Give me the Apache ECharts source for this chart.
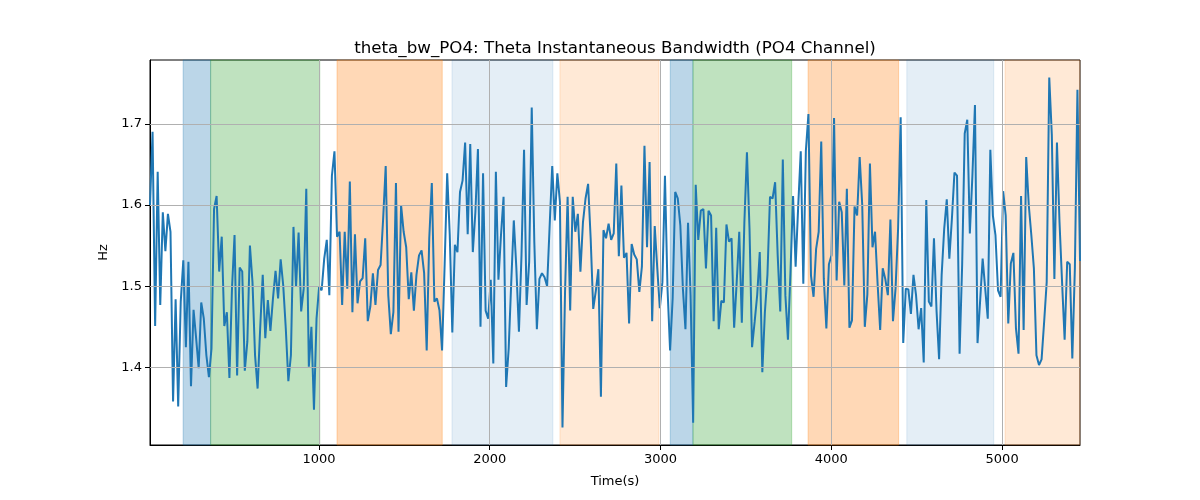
<!DOCTYPE html>
<html><head><meta charset="utf-8">
<script src="https://cdn.jsdelivr.net/npm/echarts@6/dist/echarts.min.js"></script>
<style>html,body{margin:0;padding:0;background:#fff}#c{width:1200px;height:500px}</style>
</head><body><div id="c"></div>
<script>
// Theta bandwidth (Hz), one sample every 15 s
const values = [
1.600,1.690,1.451,1.641,1.477,1.591,1.543,1.589,1.567,1.358,
1.484,1.352,1.481,1.532,1.425,1.530,1.377,1.471,1.436,1.399,
1.480,1.460,1.415,1.388,1.423,1.595,1.611,1.518,1.561,1.451,
1.468,1.387,1.497,1.563,1.390,1.523,1.518,1.396,1.432,1.550,
1.505,1.415,1.374,1.448,1.514,1.436,1.483,1.445,1.485,1.519,
1.485,1.533,1.501,1.448,1.383,1.415,1.573,1.499,1.566,1.469,
1.497,
1.620,1.401,1.450,1.348,1.460,1.499,1.495,1.534,1.557,1.489,
1.636,1.666,1.561,1.567,1.477,1.567,1.497,1.629,1.468,1.564,
1.479,1.506,1.510,1.559,1.457,1.475,1.516,1.477,1.520,1.526,
1.583,1.648,1.489,1.441,1.468,1.627,1.444,1.600,1.567,1.548,
1.484,1.517,1.470,1.514,1.538,1.544,1.516,1.421,1.559,1.627,
1.481,1.485,1.470,1.421,1.526,1.639,1.563,1.443,1.551,1.542,
1.616,
1.630,1.677,1.564,1.675,1.542,1.591,1.669,1.450,1.639,1.470,
1.460,1.508,1.405,1.641,1.508,1.563,1.610,1.376,1.423,1.505,
1.581,1.522,1.444,1.538,1.668,1.477,1.530,1.720,1.555,1.447,
1.509,1.516,1.511,1.500,1.575,1.648,1.581,1.639,1.604,1.326,
1.493,1.610,1.470,1.610,1.567,1.589,1.518,1.579,1.608,1.626,
1.559,1.472,1.494,1.521,1.364,1.569,1.559,1.577,1.557,1.565,
1.651,1.537,1.624,1.535,1.541,1.454,1.552,1.539,1.533,1.493,
1.524,1.673,1.548,1.653,1.457,1.574,1.522,1.473,1.505,1.636,
1.497,1.421,1.485,1.616,1.608,1.575,1.497,1.447,1.578,1.489,
1.332,1.625,1.557,1.593,1.595,1.522,1.593,1.587,1.457,1.572,
1.447,1.482,1.480,1.576,1.555,1.559,1.449,1.505,1.567,1.455,
1.579,1.665,1.571,1.425,1.456,1.489,1.542,1.394,1.468,1.514,
1.610,
1.608,1.628,1.538,1.469,1.656,1.489,1.434,1.518,1.611,1.524,
1.598,1.666,1.503,1.667,1.712,1.513,1.487,1.546,1.567,1.678,
1.509,1.448,1.527,1.538,1.707,1.507,1.604,1.591,1.501,1.620,
1.449,1.458,1.598,1.587,1.659,1.600,1.450,1.490,1.651,1.548,
1.567,1.503,1.446,1.522,1.509,1.489,1.582,1.457,1.497,1.571,
1.708,1.430,1.497,1.496,1.466,1.514,1.489,1.447,1.473,1.406,
1.606,1.481,1.475,1.559,1.470,1.410,1.514,1.571,1.607,1.534,
1.583,1.640,1.636,1.417,1.526,1.688,1.705,1.565,1.636,1.723,
1.430,1.481,1.534,1.497,1.460,1.668,1.587,1.563,1.495,1.487,
1.617,1.587,1.454,1.528,1.541,1.448,1.417,1.611,1.446,1.659,
1.600,1.563,1.522,1.415,1.403,1.410,1.456,1.505,1.757,1.686,
1.509,1.677,1.579,1.505,1.434,1.530,1.527,1.411,1.522,1.742,
1.531
];
const sampleStart = 11;   // s, first sample
const sampleStep = 15;    // s between samples

const xTicks = [1000, 2000, 3000, 4000, 5000];
const yTicks = [1.4, 1.5, 1.6, 1.7];
const xRange = [11, 5456];
const yRange = [1.3045, 1.7785];

// shaded intervals (s)
const bandStart = [205, 366, 1106, 1779, 2411, 3057, 3190, 3864, 4442, 5017];
const bandEnd   = [366, 1005, 1722, 2370, 2991, 3190, 3768, 4394, 4951, 5456];
const bandKind  = ['a', 'b', 'c', 'd', 'e', 'a', 'b', 'c', 'd', 'e'];

const bandColor = {
  a: 'rgba(31,119,180,0.3)',
  b: 'rgba(44,160,44,0.3)',
  c: 'rgba(255,127,14,0.3)',
  d: 'rgba(31,119,180,0.12)',
  e: 'rgba(255,127,14,0.17)'
};

const seriesData = values.map((v, i) => [sampleStart + i * sampleStep, v]);
const font = 'DejaVu Sans';

const areas = bandStart.map((s, i) => [
  { xAxis: s, itemStyle: { color: bandColor[bandKind[i]], borderColor: bandColor[bandKind[i]], borderWidth: 1 } },
  { xAxis: bandEnd[i] }
]);
const gridLines = xTicks.map(x => ({ xAxis: x })).concat(yTicks.map(y => ({ yAxis: y })));

const chart = echarts.init(document.getElementById('c'), null, { renderer: 'canvas' });
chart.setOption({
  animation: false,
  backgroundColor: '#fff',
  title: {
    text: 'theta_bw_PO4: Theta Instantaneous Bandwidth (PO4 Channel)',
    left: 610, top: 35, textAlign: 'center',
    textStyle: { fontFamily: font, fontSize: 16.7, fontWeight: 'normal', color: '#000' }
  },
  grid: { left: 150, right: 120, top: 60, bottom: 55, show: true, borderColor: '#000', borderWidth: 1, backgroundColor: 'transparent' },
  xAxis: {
    type: 'value', min: xRange[0], max: xRange[1],
    name: 'Time(s)', nameLocation: 'middle', nameGap: 30,
    nameTextStyle: { fontFamily: font, fontSize: 13, color: '#000' },
    axisLine: { show: true, onZero: false, lineStyle: { color: '#000', width: 1 } },
    axisTick: { show: true, length: 5, lineStyle: { color: '#000' }, customValues: xTicks },
    axisLabel: { fontFamily: font, fontSize: 13, color: '#000', margin: 8, customValues: xTicks, formatter: v => String(Math.round(v)) },
    splitLine: { show: false }
  },
  yAxis: {
    type: 'value', min: yRange[0], max: yRange[1],
    name: 'Hz', nameLocation: 'middle', nameGap: 33, nameRotate: 90,
    nameTextStyle: { fontFamily: font, fontSize: 13, color: '#000' },
    axisLine: { show: true, onZero: false, lineStyle: { color: '#000', width: 1 } },
    axisTick: { show: true, length: 5, lineStyle: { color: '#000' }, customValues: yTicks },
    axisLabel: { fontFamily: font, fontSize: 13, color: '#000', margin: 8, customValues: yTicks, formatter: v => v.toFixed(1) },
    splitLine: { show: false }
  },
  series: [
    {
      type: 'line', z: 1, data: [], silent: true,
      markArea: { silent: true, data: areas }
    },
    {
      type: 'line', z: 2, data: [], silent: true,
      markLine: {
        silent: true, symbol: 'none', label: { show: false },
        lineStyle: { color: '#b0b0b0', width: 1, type: 'solid' },
        data: gridLines, animation: false
      }
    },
    {
      type: 'line', z: 3, data: seriesData, showSymbol: false,
      lineStyle: { color: '#1f77b4', width: 2 }, itemStyle: { color: '#1f77b4' }
    }
  ]
});
</script>
</body></html>
